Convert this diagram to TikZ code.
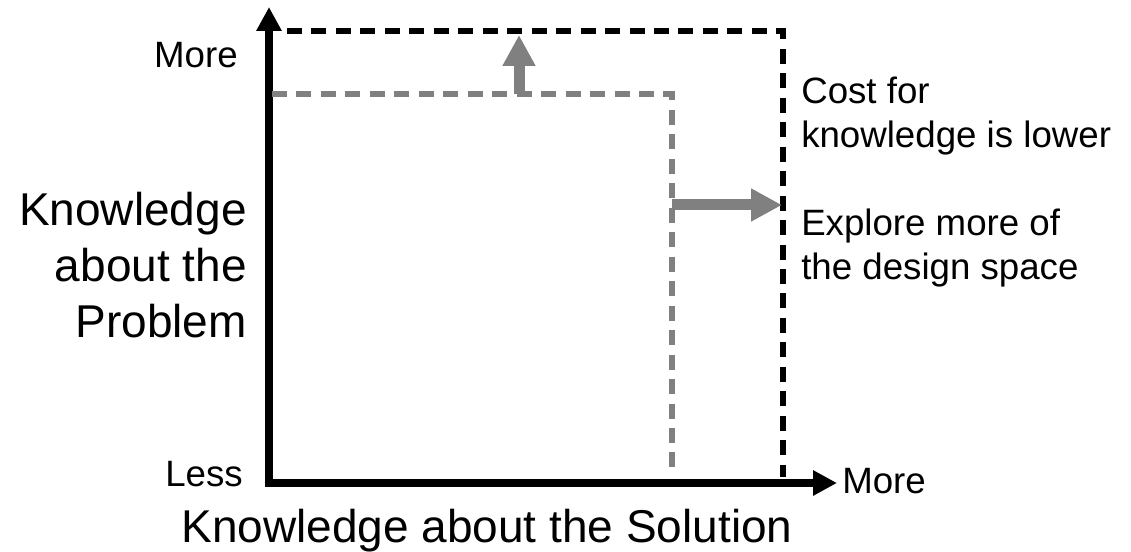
\documentclass[tikz,border=0pt]{standalone}
\usepackage{fontspec}
\setmainfont{Liberation Sans}
\usetikzlibrary{arrows.meta}
\definecolor{midgray}{RGB}{128,128,128}
\begin{document}
\begin{tikzpicture}[x=0.75pt,y=-0.75pt,
  axis/.style={line width=5.6pt, line join=miter,
    {Triangle[length=18pt,width=18pt]}-{Triangle[length=18pt,width=18pt]}},
  bound/.style={line width=4.9pt, line join=miter, dash pattern=on 11.25pt off 7.1pt},
  growarrow/.style={midgray, line width=8.25pt, -{Triangle[length=23.25pt,width=23.25pt]}},
  small/.style={inner sep=0pt, font=\fontsize{27.5}{33}\selectfont},
  big/.style={inner sep=0pt, font=\fontsize{34.5}{42}\selectfont}]
\useasboundingbox (0,0) rectangle (1131,552);
\fill[white] (0,0) rectangle (1131,552);

% axes
\coordinate (O) at (269,483);
\coordinate (ytip) at (269,7);
\coordinate (xtip) at (837,483);
\draw[axis] (ytip) |- (xtip);

% present boundary of knowledge (gray) and widened one (black)
\coordinate (g0) at (272,94);
\coordinate (gc) at (672,94);
\coordinate (g1) at (672,470);
\coordinate (b0) at (287,31);
\coordinate (bc) at (783,31);
\coordinate (b1) at (783,477);
\draw[bound, midgray] (g0) -- (gc) -- (g1);
\draw[bound, black] (b0) -- (bc) -- (b1);

% growth of the boundary
\coordinate (upfrom) at (519,94);
\coordinate (upto) at (519,35);
\coordinate (rfrom) at (672,205);
\coordinate (rto) at (782,205);
\draw[growarrow] (upfrom) -- (upto);
\draw[growarrow] (rfrom) -- (rto);

% labels (the base anchor of a multi-line node sits on its last line)
\node[small, anchor=base east] (ymore) at (238,68) {More};
\node[small, anchor=base east] (less) at (243,486) {Less};
\node[small, anchor=base west] (xmore) at (842,493) {More};
\node[big, anchor=base east, align=right] (ylab) at (247,337) {Knowledge\\about the\\Problem};
\node[big, anchor=base] (xlab) at (487,542) {Knowledge about the Solution};
\node[small, anchor=base west, align=left] (cost) at (801,148) {Cost for\\knowledge is lower};
\node[small, anchor=base west, align=left] (explore) at (801,280) {Explore more of\\the design space};
\end{tikzpicture}
\end{document}
